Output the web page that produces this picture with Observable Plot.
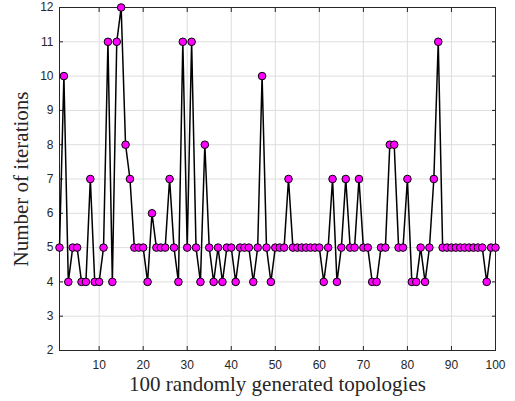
<!DOCTYPE html>
<html>
<head>
<meta charset="utf-8">
<script src="https://cdn.jsdelivr.net/npm/d3@7"></script>
<script src="https://cdn.jsdelivr.net/npm/@observablehq/plot@0.6"></script>
<style>
  html, body { margin: 0; padding: 0; background: #fff; }
</style>
</head>
<body>
<div id="chart"></div>
<script>
const topology = d3.range(1, 101);
const iterations = [
  5, 10, 4, 5, 5, 4, 4, 7, 4, 4,
  5, 11, 4, 11, 12, 8, 7, 5, 5, 5,
  4, 6, 5, 5, 5, 7, 5, 4, 11, 5,
  11, 5, 4, 8, 5, 4, 5, 4, 5, 5,
  4, 5, 5, 5, 4, 5, 10, 5, 4, 5,
  5, 5, 7, 5, 5, 5, 5, 5, 5, 5,
  4, 5, 7, 4, 5, 7, 5, 5, 7, 5,
  5, 4, 4, 5, 5, 8, 8, 5, 5, 7,
  4, 4, 5, 4, 5, 7, 11, 5, 5, 5,
  5, 5, 5, 5, 5, 5, 5, 4, 5, 5
];
const xTicks = [10, 20, 30, 40, 50, 60, 70, 80, 90, 100];
const yTicks = [2, 3, 4, 5, 6, 7, 8, 9, 10, 11, 12];
const xLabel = "100 randomly generated topologies";
const yLabel = "Number of iterations";

const data = topology.map((t, i) => ({t, v: iterations[i]}));

const tickFont = "'Liberation Sans', Arial, sans-serif";
const labelFont = "'Liberation Serif', 'Times New Roman', serif";
const axisColor = "#262626";

const chart = Plot.plot({
  width: 515,
  height: 401,
  marginLeft: 59,
  marginRight: 20,
  marginTop: 7,
  marginBottom: 51,
  style: {fontFamily: tickFont, fontSize: "12px", color: axisColor, background: "#fff"},
  x: {domain: [1, 100]},
  y: {domain: [2, 12]},
  marks: [
    Plot.gridX(xTicks, {stroke: "#dedede", strokeOpacity: 1, strokeWidth: 1}),
    Plot.gridY(yTicks, {stroke: "#dedede", strokeOpacity: 1, strokeWidth: 1}),
    Plot.frame({stroke: axisColor, strokeWidth: 1}),
    Plot.axisX(xTicks, {anchor: "bottom", tickSize: -4, text: null, stroke: axisColor, label: null}),
    Plot.axisX(xTicks, {anchor: "top", tickSize: -4, text: null, stroke: axisColor, label: null}),
    Plot.axisY(yTicks, {anchor: "left", tickSize: -4, text: null, stroke: axisColor, label: null}),
    Plot.axisY(yTicks, {anchor: "right", tickSize: -4, text: null, stroke: axisColor, label: null}),
    Plot.axisX(xTicks, {anchor: "bottom", tickSize: 0, tickPadding: 10, label: null, fill: axisColor, fontSize: 12}),
    Plot.axisY(yTicks, {anchor: "left", tickSize: 0, tickPadding: 6, label: null, fill: axisColor, fontSize: 12}),
    Plot.line(data, {x: "t", y: "v", stroke: "black", strokeWidth: 1.5}),
    Plot.dot(data, {x: "t", y: "v", r: 3.8, fill: "#ff00ff", stroke: "black", strokeWidth: 1}),
    Plot.text([xLabel], {frameAnchor: "bottom", lineAnchor: "middle", dy: 34, fontFamily: labelFont, fontSize: 21, fill: axisColor}),
    Plot.text([yLabel], {frameAnchor: "left", textAnchor: "middle", lineAnchor: "middle", rotate: -90, dx: -38, fontFamily: labelFont, fontSize: 21, fill: axisColor})
  ]
});
document.getElementById("chart").append(chart);
</script>
</body>
</html>
